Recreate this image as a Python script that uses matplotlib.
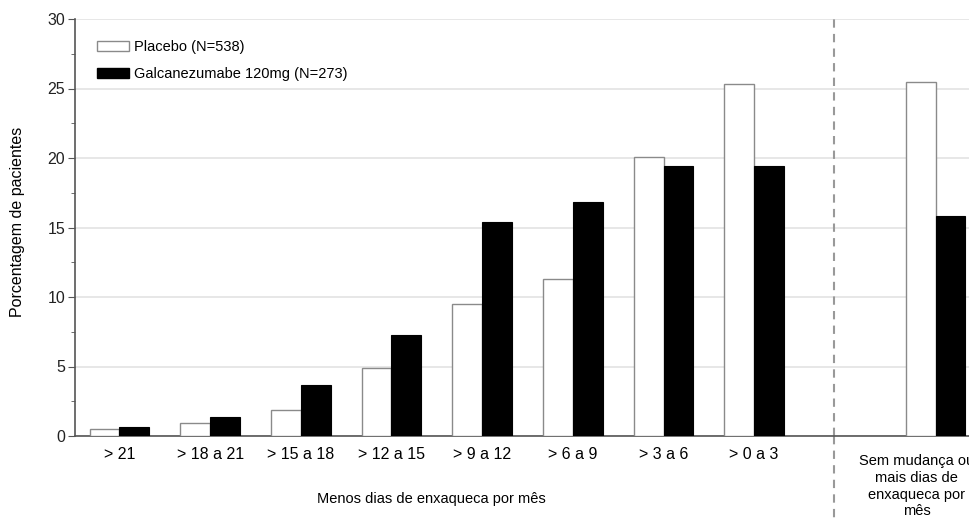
import matplotlib
matplotlib.use("Agg")
import matplotlib.pyplot as plt
import numpy as np
from matplotlib.patches import Patch

plt.rcParams['font.family'] = ['Liberation Sans', 'DejaVu Sans']

categories = ["> 21", "> 18 a 21", "> 15 a 18", "> 12 a 15", "> 9 a 12",
              "> 6 a 9", "> 3 a 6", "> 0 a 3"]
extra_category = "Sem mudança ou\nmais dias de\nenxaqueca por\nmês"
placebo = [0.5, 0.9, 1.9, 4.9, 9.5, 11.3, 20.1, 25.3, 25.5]
galca = [0.65, 1.4, 3.7, 7.3, 15.4, 16.8, 19.4, 19.4, 15.8]
legend_labels = ["Placebo (N=538)", "Galcanezumabe 120mg (N=273)"]
xlabel = "Menos dias de enxaqueca por mês"
ylabel = "Porcentagem de pacientes"

fig = plt.figure(figsize=(9.7, 5.22), dpi=100)
ax = fig.add_axes([75/970, 1-436/522, 1-75/970, (436-19)/522])

pos = np.array(list(range(len(categories))) + [9])
w = 0.33
ax.bar(pos - w/2, placebo, w, color="white", edgecolor="#8a8a8a", linewidth=1.0, zorder=3)
ax.bar(pos + w/2, galca, w, color="black", edgecolor="black", linewidth=0.8, zorder=3)

ax.set_xlim(-0.49, 9.38)
ax.set_ylim(0, 30)
ax.set_yticks(np.arange(0, 31, 5))
ax.set_yticks(np.arange(2.5, 30, 5), minor=True)
ax.yaxis.grid(True, color="#e3e3e3", linewidth=1.2, zorder=0)
ax.set_axisbelow(True)

ax.set_xticks(range(len(categories)))
ax.set_xticklabels(categories, fontsize=11.5)
ax.tick_params(axis='x', length=0, pad=8)
ax.tick_params(axis='y', which='major', length=5, color="#555555", labelsize=11.5,
               labelcolor="#222222", pad=2)
ax.tick_params(axis='y', which='minor', length=3, color="#555555")

for s in ["top", "right"]:
    ax.spines[s].set_visible(False)
ax.spines["left"].set_color("#555555")
ax.spines["bottom"].set_color("#555555")
ax.spines["left"].set_linewidth(1.2)
ax.spines["bottom"].set_linewidth(1.2)

ax.axvline(7.88, ymin=0, ymax=1, color="#999999", linestyle=(0, (4, 3)), linewidth=1.5,
           clip_on=False, zorder=1)
ax.plot([7.88, 7.88], [0, -6.2], color="#999999", linestyle=(0, (4, 3)), linewidth=1.5,
        clip_on=False, zorder=1)

ax.text(8.79, -1.3, extra_category, ha="center", va="top", fontsize=10.5,
        linespacing=1.25, clip_on=False)
ax.text(3.44, -4.0, xlabel, ha="center", va="top", fontsize=10.5)
fig.text(18/970, 1-222/522, ylabel, rotation=90, ha="center", va="center", fontsize=11.5)

handles = [Patch(facecolor="white", edgecolor="#8a8a8a"),
           Patch(facecolor="black", edgecolor="black")]
ax.legend(handles, legend_labels, loc="upper left", bbox_to_anchor=(0.01, 0.98),
          frameon=False, fontsize=10.5, handlelength=2.2, handleheight=0.7,
          handletextpad=0.35, labelspacing=0.85)

fig.savefig("out.png", dpi=100)
